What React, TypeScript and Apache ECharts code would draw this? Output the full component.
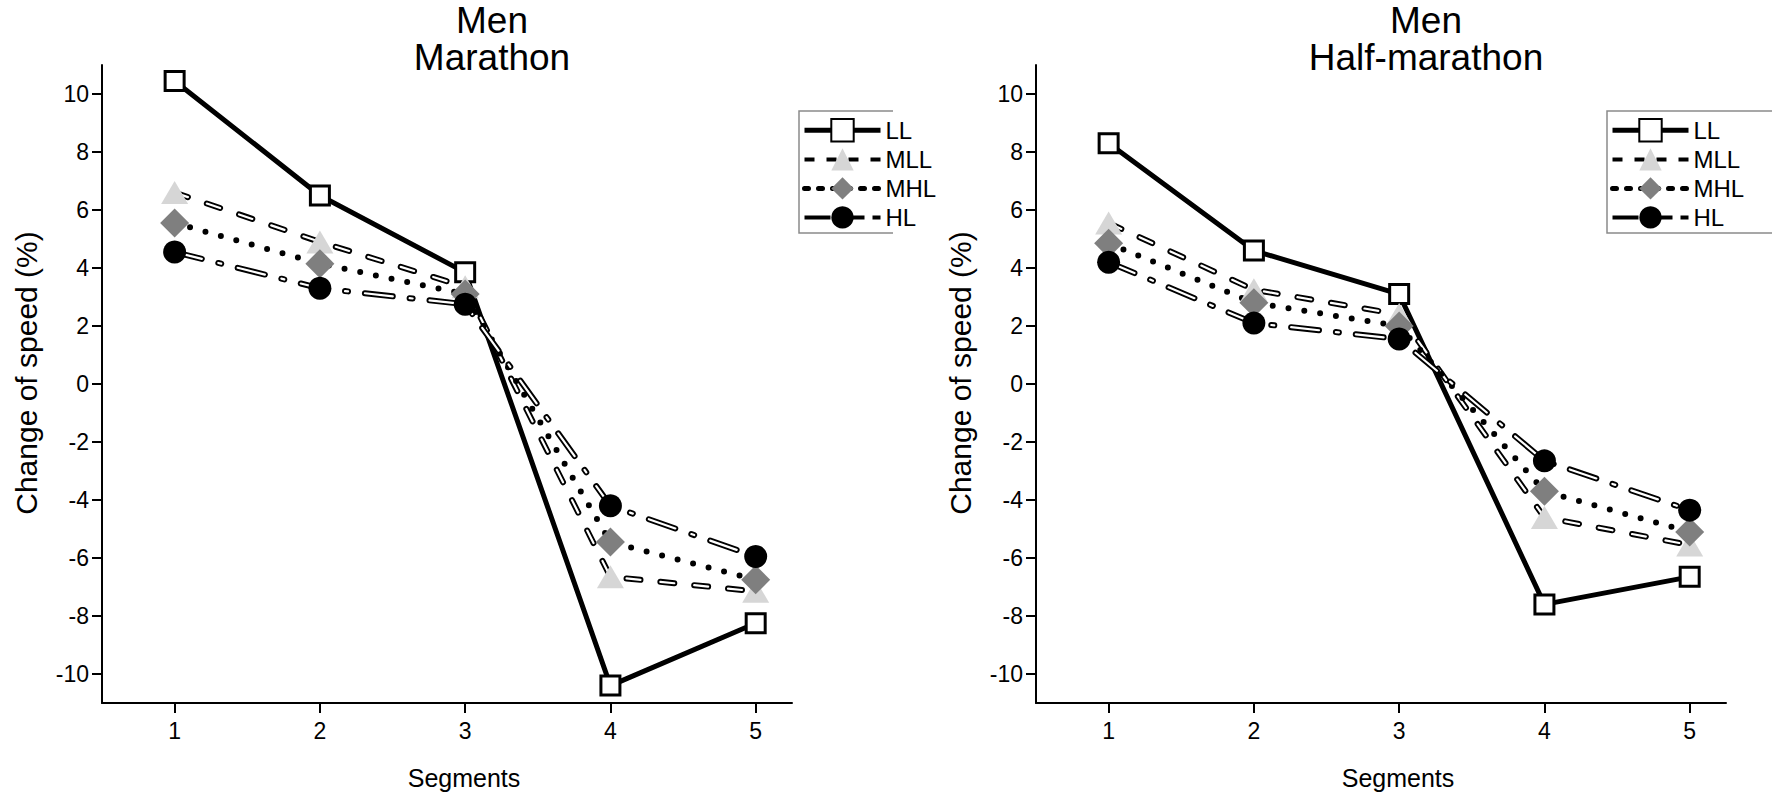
import React, { useEffect, useRef } from "react";
import * as echarts from "echarts";

const segments = [1, 2, 3, 4, 5];
const yTickValues = [-10, -8, -6, -4, -2, 0, 2, 4, 6, 8, 10];
const groupNames = ["LL", "MLL", "MHL", "HL"];
const panelTitles = ["Men\nMarathon", "Men\nHalf-marathon"];

const marathonLL = [10.45, 6.5, 3.85, -10.4, -8.25];
const marathonMLL = [6.6, 4.9, 3.35, -6.65, -7.15];
const marathonMHL = [5.55, 4.15, 3.1, -5.45, -6.75];
const marathonHL = [4.55, 3.3, 2.75, -4.2, -5.95];

const halfLL = [8.3, 4.6, 3.1, -7.6, -6.65];
const halfMLL = [5.55, 3.25, 2.4, -4.6, -5.55];
const halfMHL = [4.85, 2.8, 2.0, -3.7, -5.1];
const halfHL = [4.2, 2.1, 1.55, -2.65, -4.35];

const FONT = "'Liberation Sans', Arial, Helvetica, sans-serif";

const GRID_LEFT = [102, 1036];
const GRID_TOP = 65;
const GRID_W = 690;
const GRID_H = 638;
const LEGEND_LEFT = [799, 1607];
const LEGEND_BOX_W = [94, 170];
const TITLE_X = [492, 1426];

const MLL_DASH = [14, 20];
const HL_DASH = [28, 17, 3, 17];
const MHL_DOT = [0, 16];

function pairs(vals: number[]) {
  return segments.map((s, j) => [s, vals[j]]);
}

function panelSeries(i: number, LL: number[], MLL: number[], MHL: number[], HL: number[]) {
  const ax = { xAxisIndex: i, yAxisIndex: i };
  return [
    {
      type: "line", name: "LL", ...ax, data: pairs(LL), z: 3,
      symbol: "rect", symbolSize: 19,
      lineStyle: { color: "#000", width: 5 },
      itemStyle: { color: "#fff", borderColor: "#000", borderWidth: 3 },
    },
    {
      type: "line", name: "MLL outline", ...ax, data: pairs(MLL), z: 3,
      symbol: "none", silent: true,
      lineStyle: { color: "#000", width: 6, type: MLL_DASH, cap: "round" },
    },
    {
      type: "line", name: "MLL core", ...ax, data: pairs(MLL), z: 3,
      symbol: "none", silent: true,
      lineStyle: { color: "#fff", width: 2.2, type: MLL_DASH, cap: "round" },
    },
    {
      type: "line", name: "MLL", ...ax, data: pairs(MLL), z: 3,
      symbol: "triangle", symbolSize: [27, 23],
      lineStyle: { width: 0, opacity: 0 },
      itemStyle: { color: "#d6d6d6" },
    },
    {
      type: "line", name: "MHL", ...ax, data: pairs(MHL), z: 3,
      symbol: "diamond", symbolSize: 29,
      lineStyle: { color: "#000", width: 6, type: MHL_DOT, cap: "round" },
      itemStyle: { color: "#7f7f7f" },
    },
    {
      type: "line", name: "HL outline", ...ax, data: pairs(HL), z: 3,
      symbol: "none", silent: true,
      lineStyle: { color: "#000", width: 6, type: HL_DASH, cap: "round" },
    },
    {
      type: "line", name: "HL core", ...ax, data: pairs(HL), z: 3,
      symbol: "none", silent: true,
      lineStyle: { color: "#fff", width: 2.2, type: HL_DASH, cap: "round" },
    },
    {
      type: "line", name: "HL", ...ax, data: pairs(HL), z: 3,
      symbol: "circle", symbolSize: 23,
      lineStyle: { width: 0, opacity: 0 },
      itemStyle: { color: "#000" },
    },
  ];
}

export default function App() {
  const ref = useRef<HTMLDivElement>(null);
  useEffect(() => {
    const chart = echarts.init(ref.current!, null, { renderer: "svg" });
    const axisText = { color: "#000", fontFamily: FONT };
    const option: any = {
      animation: false,
      backgroundColor: "#fff",
      textStyle: { fontFamily: FONT, color: "#000" },
      title: [0, 1].map((i) => ({
        text: panelTitles[i],
        left: TITLE_X[i],
        top: 2,
        padding: 0,
        textAlign: "center",
        textStyle: { fontSize: 37, fontWeight: "normal", lineHeight: 37, color: "#000", fontFamily: FONT },
      })),
      grid: [0, 1].map((i) => ({
        left: GRID_LEFT[i], top: GRID_TOP, width: GRID_W, height: GRID_H, containLabel: false,
      })),
      xAxis: [0, 1].map((i) => ({
        type: "value", gridIndex: i, min: 0.5, max: 5.25,
        name: "Segments", nameLocation: "middle", nameGap: 62,
        nameTextStyle: { fontSize: 25, padding: [0, 0, 0, 34], ...axisText },
        axisLine: { show: true, onZero: false, lineStyle: { color: "#000", width: 2 } },
        axisTick: { show: true, length: 10, lineStyle: { color: "#000", width: 2 }, customValues: segments },
        axisLabel: { fontSize: 23, margin: 16, ...axisText, customValues: segments },
        splitLine: { show: false },
      })),
      yAxis: [0, 1].map((i) => ({
        type: "value", gridIndex: i, min: -11, max: 11,
        name: "Change of speed (%)", nameLocation: "middle", nameGap: 61,
        nameTextStyle: { fontSize: 30, padding: [0, 0, 0, 22], ...axisText },
        axisLine: { show: true, onZero: false, lineStyle: { color: "#000", width: 2 } },
        axisTick: { show: true, length: 10, lineStyle: { color: "#000", width: 2 }, customValues: yTickValues },
        axisLabel: { fontSize: 23, margin: 13, ...axisText, customValues: yTickValues },
        splitLine: { show: false },
      })),
      legend: [0, 1].map((i) => ({
        orient: "vertical",
        left: LEGEND_LEFT[i],
        top: 113,
        padding: [5, 5, 5, 3],
        itemWidth: 76,
        itemHeight: 28,
        itemGap: 5,
        selectedMode: false,
        textStyle: { fontSize: 24, color: "#000", fontFamily: FONT },
        data: [
          { name: groupNames[0], lineStyle: { color: "#000", width: 5, opacity: 1 } },
          { name: groupNames[1], lineStyle: { color: "#000", width: 4, type: [10, 12], opacity: 1 } },
          { name: groupNames[2], lineStyle: { color: "#000", width: 5, type: [4, 10], opacity: 1 } },
          { name: groupNames[3], lineStyle: { color: "#000", width: 4, type: [26, 8], opacity: 1 } },
        ],
      })),
      graphic: [0, 1].map((i) => ({
        type: "polyline",
        silent: true,
        shape: {
          points: [
            [LEGEND_LEFT[i] + LEGEND_BOX_W[i], 111],
            [LEGEND_LEFT[i], 111],
            [LEGEND_LEFT[i], 233],
            [LEGEND_LEFT[i] + LEGEND_BOX_W[i], 233],
          ],
        },
        style: { stroke: "#8a8a8a", lineWidth: 1.5, fill: null },
      })),
      series: [
        ...panelSeries(0, marathonLL, marathonMLL, marathonMHL, marathonHL),
        ...panelSeries(1, halfLL, halfMLL, halfMHL, halfHL),
      ],
    };
    chart.setOption(option);
    return () => chart.dispose();
  }, []);
  return (
    <div
      ref={ref}
      style={{ position: "absolute", left: 0, top: 0, width: 1772, height: 805, background: "#fff" }}
    />
  );
}
